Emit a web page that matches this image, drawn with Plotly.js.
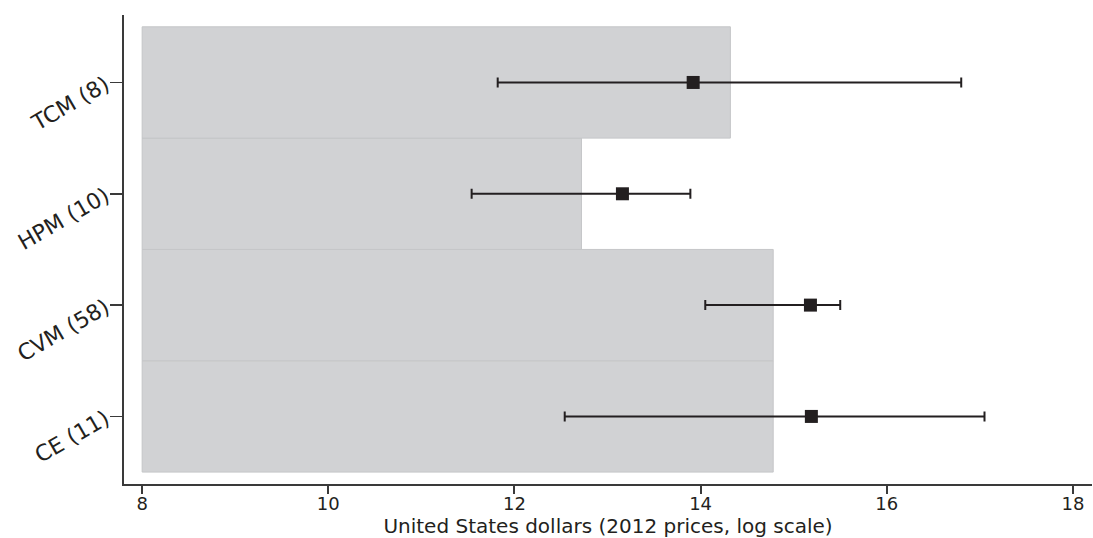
<!DOCTYPE html>
<html>
<head>
<meta charset="utf-8">
<script src="https://cdn.plot.ly/plotly-3.0.1.min.js"></script>
<style>
html,body{margin:0;padding:0;background:#fff;}
#chart{width:1093px;height:538px;}
</style>
</head>
<body>
<div id="chart"></div>
<script>
// Data
const categories = ["CE (11)", "CVM (58)", "HPM (10)", "TCM (8)"];
const barEnds    = [14.78, 14.78, 12.72, 14.32];
const barBase    = 8;
const means      = [15.19, 15.18, 13.16, 13.92];
const lowers     = [12.54, 14.05, 11.54, 11.82];
const uppers     = [17.05, 15.50, 13.89, 16.80];
const xTicks     = [8, 10, 12, 14, 16, 18];
const xTitle     = "United States dollars (2012 prices, log scale)";

const ink = "#231f20";
const font = "DejaVu Sans, Liberation Sans, Arial, sans-serif";

const bars = {
  type: "bar",
  orientation: "h",
  y: categories,
  x: barEnds.map(v => v - barBase),
  base: barBase,
  marker: {color: "#d1d2d4", line: {color: "#c5c6c8", width: 1}},
  hoverinfo: "skip",
  showlegend: false
};

const points = {
  type: "scatter",
  mode: "markers",
  y: categories,
  x: means,
  marker: {symbol: "square", size: 13, color: ink},
  error_x: {
    type: "data",
    symmetric: false,
    array: uppers.map((u, i) => u - means[i]),
    arrayminus: lowers.map((l, i) => means[i] - l),
    color: ink,
    thickness: 2,
    width: 5
  },
  showlegend: false
};

const layout = {
  width: 1093,
  height: 538,
  margin: {l: 124, r: 1, t: 15, b: 54, pad: 0},
  paper_bgcolor: "#ffffff",
  plot_bgcolor: "#ffffff",
  bargap: 0,
  showlegend: false,
  font: {family: font, color: ink},
  xaxis: {
    range: [7.805, 18.205],
    tickvals: xTicks,
    ticktext: xTicks.map(String),
    ticks: "outside",
    ticklen: 8,
    tickwidth: 2,
    tickcolor: "#3a3a3a",
    showline: true,
    linecolor: "#3a3a3a",
    linewidth: 2,
    showgrid: false,
    zeroline: false,
    ticklabelstandoff: -6,
    tickfont: {family: font, size: 18, color: ink},
    title: {text: xTitle, font: {family: font, size: 20, color: ink}, standoff: 6},
    automargin: false
  },
  yaxis: {
    type: "category",
    categoryorder: "array",
    categoryarray: categories,
    range: [-0.607, 3.606],
    ticks: "outside",
    ticklen: 12,
    tickwidth: 1.5,
    tickcolor: "#3a3a3a",
    showline: true,
    linecolor: "#3a3a3a",
    linewidth: 2,
    showgrid: false,
    zeroline: false,
    tickangle: -30,
    tickfont: {family: font, size: 22, color: ink},
    automargin: false
  }
};

Plotly.newPlot("chart", [bars, points], layout, {displayModeBar: false, staticPlot: true});
</script>
</body>
</html>
